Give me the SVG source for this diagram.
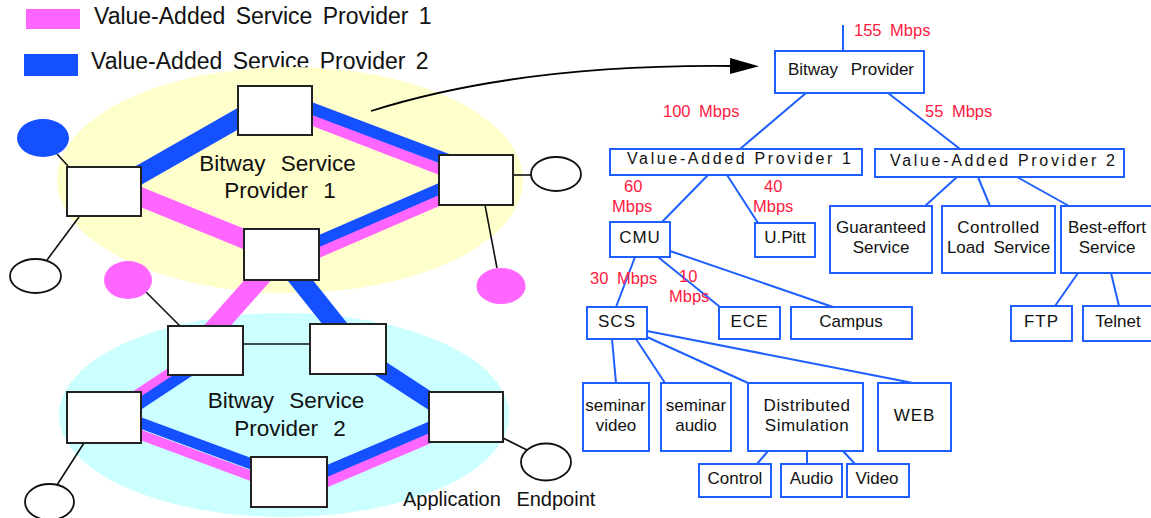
<svg xmlns="http://www.w3.org/2000/svg" width="1151" height="518" viewBox="0 0 1151 518">
<style>
text{font-family:"Liberation Sans",Arial,sans-serif;fill:#111}
.nb{fill:#fff;stroke:#222;stroke-width:2}
.tb{fill:#fff;stroke:#1f5fff;stroke-width:2}
.tl{stroke:#1f5fff;stroke-width:2;fill:none}
.thin{stroke:#111;stroke-width:1.6;fill:none}
.bl{stroke:#1450ff;fill:none}
.pk{stroke:#ff66ff;fill:none}
.ep{fill:#fff;stroke:#111;stroke-width:1.8}
.big{font-size:22.5px;word-spacing:9px}
.t17{font-size:17px}
.red{font-size:16.5px;fill:#ff2040;word-spacing:4px}
</style>
<defs>
<marker id="ah" markerWidth="30" markerHeight="18" refX="1" refY="8" orient="auto" markerUnits="userSpaceOnUse"><path d="M0,0 L29,8 L0,16 z" fill="#000"/></marker>
</defs>

<!-- legend -->
<g id="legend">
<rect x="26" y="9" width="54" height="20" fill="#ff66ff"/>
<rect x="24" y="54" width="54" height="22" fill="#1450ff"/>
<text x="94" y="24" font-size="23" word-spacing="4">Value-Added Service Provider 1</text>
<text x="91" y="69" font-size="23" word-spacing="4">Value-Added Service Provider 2</text>
</g>

<!-- regions -->
<g id="region1"><ellipse cx="290" cy="180" rx="233" ry="113" fill="#ffffcc"/></g>
<g id="region2"><ellipse cx="284" cy="415" rx="225" ry="102" fill="#ccffff"/></g>

<!-- connectors -->
<g id="connectors">
<line class="bl" x1="120" y1="186" x2="255" y2="109" stroke-width="19"/>
<line class="pk" x1="295" y1="113.4" x2="455" y2="175.2" stroke-width="11"/>
<line class="bl" x1="295" y1="102.1" x2="455" y2="162.6" stroke-width="12"/>
<line class="pk" x1="125" y1="190.5" x2="260" y2="245.5" stroke-width="19"/>
<line class="pk" x1="305" y1="258.1" x2="455" y2="193.1" stroke-width="11"/>
<line class="bl" x1="305" y1="247.1" x2="455" y2="182.1" stroke-width="11"/>
<line class="pk" x1="265" y1="272" x2="210" y2="334" stroke-width="20"/>
<line class="bl" x1="293.6" y1="272" x2="341.4" y2="332" stroke-width="20"/>
<line class="pk" x1="125" y1="402.6" x2="190" y2="359.7" stroke-width="10"/>
<line class="bl" x1="125" y1="413.6" x2="190" y2="370.7" stroke-width="11"/>
<line class="bl" x1="370" y1="361.6" x2="445" y2="410.5" stroke-width="17"/>
<line class="pk" x1="125" y1="429.1" x2="265" y2="480.9" stroke-width="10"/>
<line class="bl" x1="125" y1="417.1" x2="265" y2="468.9" stroke-width="11"/>
<line class="pk" x1="315" y1="487.1" x2="440" y2="433.8" stroke-width="10"/>
<line class="bl" x1="315" y1="476.1" x2="440" y2="422.8" stroke-width="11"/>

<line class="thin" x1="57" y1="154" x2="68" y2="166"/>
<line class="thin" x1="79" y1="217" x2="47" y2="260"/>
<line class="thin" x1="146" y1="292" x2="180" y2="326"/>
<line class="thin" x1="513" y1="175" x2="531" y2="175"/>
<line class="thin" x1="485" y1="205" x2="497" y2="268"/>
<line class="thin" x1="243" y1="344" x2="310" y2="344"/>
<line class="thin" x1="84" y1="443" x2="57" y2="485"/>
<line class="thin" x1="503" y1="438" x2="529" y2="451"/>

<path d="M371,111 Q520,64 731,66" stroke="#000" stroke-width="1.8" fill="none" marker-end="url(#ah)"/>

<line class="tl" x1="843" y1="25" x2="843" y2="51"/>
<line class="tl" x1="806" y1="93" x2="740" y2="149"/>
<line class="tl" x1="888" y1="93" x2="960" y2="149"/>
<line class="tl" x1="708" y1="175" x2="662" y2="222"/>
<line class="tl" x1="727" y1="175" x2="758" y2="223"/>
<line class="tl" x1="957" y1="177" x2="925" y2="206"/>
<line class="tl" x1="978" y1="177" x2="990" y2="206"/>
<line class="tl" x1="1017" y1="177" x2="1069" y2="206"/>
<line class="tl" x1="635" y1="257" x2="616" y2="307"/>
<line class="tl" x1="658" y1="257" x2="720" y2="307"/>
<line class="tl" x1="670" y1="251" x2="833" y2="307"/>
<line class="tl" x1="612" y1="339" x2="616" y2="383"/>
<line class="tl" x1="636" y1="339" x2="665" y2="383"/>
<line class="tl" x1="647" y1="337" x2="748" y2="383"/>
<line class="tl" x1="647" y1="331" x2="913" y2="383"/>
<line class="tl" x1="1078" y1="273" x2="1055" y2="306"/>
<line class="tl" x1="1111" y1="273" x2="1119" y2="306"/>
<line class="tl" x1="768" y1="451" x2="757" y2="464"/>
<line class="tl" x1="807" y1="451" x2="807" y2="464"/>
<line class="tl" x1="843" y1="451" x2="855" y2="464"/>
</g>

<!-- network nodes -->
<g id="r1-top"><rect class="nb" x="238" y="86" width="74" height="49"/></g>
<g id="r1-left"><rect class="nb" x="67" y="167" width="74" height="49"/></g>
<g id="r1-right"><rect class="nb" x="439" y="155" width="74" height="50"/></g>
<g id="r1-center"><rect class="nb" x="244" y="229" width="75" height="51"/></g>
<g id="r2-upleft"><rect class="nb" x="168" y="326" width="75" height="49"/></g>
<g id="r2-upright"><rect class="nb" x="310" y="324" width="76" height="50"/></g>
<g id="r2-left"><rect class="nb" x="67" y="392" width="74" height="51"/></g>
<g id="r2-bottom"><rect class="nb" x="251" y="457" width="76" height="50"/></g>
<g id="r2-right"><rect class="nb" x="429" y="392" width="74" height="50"/></g>

<g id="ep1"><ellipse cx="43" cy="138" rx="26" ry="19" fill="#1450ff"/></g>
<g id="ep2"><ellipse class="ep" cx="35.5" cy="276" rx="25.5" ry="17"/></g>
<g id="ep3"><ellipse cx="128" cy="280" rx="24" ry="19" fill="#ff66ff"/></g>
<g id="ep4"><ellipse class="ep" cx="556" cy="174" rx="25" ry="17"/></g>
<g id="ep5"><ellipse cx="501" cy="286" rx="24.5" ry="18" fill="#ff66ff"/></g>
<g id="ep6"><ellipse class="ep" cx="49.5" cy="502" rx="24.5" ry="18"/></g>
<g id="ep7"><ellipse class="ep" cx="546" cy="462" rx="25" ry="18.5"/></g>

<g id="labels">
<text class="big" x="277.5" y="171" text-anchor="middle">Bitway Service</text>
<text class="big" x="280" y="198" text-anchor="middle">Provider 1</text>
<text class="big" x="286" y="408" text-anchor="middle">Bitway Service</text>
<text class="big" x="290" y="436" text-anchor="middle">Provider 2</text>
<text x="403" y="506" font-size="20" word-spacing="10">Application Endpoint</text>
</g>

<!-- tree nodes -->
<g id="t-bitway"><rect class="tb" x="775" y="51" width="149" height="42"/><text class="t17" x="851" y="75" text-anchor="middle" word-spacing="8">Bitway Provider</text></g>
<g id="t-vap1"><rect class="tb" x="610" y="149" width="252" height="26"/><text x="627" y="164" font-size="16" textLength="224" lengthAdjust="spacing">Value-Added Provider 1</text></g>
<g id="t-vap2"><rect class="tb" x="875" y="149" width="249" height="28"/><text x="890" y="166" font-size="16" textLength="225" lengthAdjust="spacing">Value-Added Provider 2</text></g>
<g id="t-cmu"><rect class="tb" x="610" y="222" width="60" height="35"/><text class="t17" x="640" y="243" text-anchor="middle" letter-spacing="1">CMU</text></g>
<g id="t-upitt"><rect class="tb" x="755" y="223" width="60" height="34"/><text class="t17" x="785" y="243" text-anchor="middle">U.Pitt</text></g>
<g id="t-guar"><rect class="tb" x="830" y="206" width="102" height="67"/><text class="t17" x="881" y="233" text-anchor="middle">Guaranteed</text><text class="t17" x="881" y="253" text-anchor="middle">Service</text></g>
<g id="t-ctrl"><rect class="tb" x="942" y="206" width="113" height="67"/><text class="t17" x="998.5" y="233" text-anchor="middle" letter-spacing="0.5">Controlled</text><text class="t17" x="998.5" y="253" text-anchor="middle" word-spacing="4">Load Service</text></g>
<g id="t-best"><rect class="tb" x="1061" y="206" width="95" height="67"/><text class="t17" x="1107" y="233" text-anchor="middle">Best-effort</text><text class="t17" x="1107" y="253" text-anchor="middle">Service</text></g>
<g id="t-scs"><rect class="tb" x="587" y="307" width="60" height="32"/><text class="t17" x="617" y="327" text-anchor="middle" letter-spacing="1">SCS</text></g>
<g id="t-ece"><rect class="tb" x="719" y="307" width="61" height="32"/><text class="t17" x="749.5" y="327" text-anchor="middle" letter-spacing="1">ECE</text></g>
<g id="t-campus"><rect class="tb" x="791" y="307" width="121" height="32"/><text class="t17" x="851" y="327" text-anchor="middle">Campus</text></g>
<g id="t-ftp"><rect class="tb" x="1011" y="306" width="61" height="35"/><text class="t17" x="1041.5" y="327" text-anchor="middle" letter-spacing="1">FTP</text></g>
<g id="t-telnet"><rect class="tb" x="1083" y="306" width="72" height="35"/><text class="t17" x="1118" y="327" text-anchor="middle">Telnet</text></g>
<g id="t-semvid"><rect class="tb" x="583" y="383" width="66" height="68"/><text class="t17" x="615.5" y="411" text-anchor="middle">seminar</text><text class="t17" x="616" y="431" text-anchor="middle">video</text></g>
<g id="t-semaud"><rect class="tb" x="661" y="383" width="70" height="68"/><text class="t17" x="696" y="411" text-anchor="middle">seminar</text><text class="t17" x="696" y="431" text-anchor="middle">audio</text></g>
<g id="t-dist"><rect class="tb" x="748" y="383" width="115" height="68"/><text class="t17" x="807" y="411" text-anchor="middle" letter-spacing="0.5">Distributed</text><text class="t17" x="807" y="431" text-anchor="middle" letter-spacing="0.5">Simulation</text></g>
<g id="t-web"><rect class="tb" x="878" y="383" width="73" height="68"/><text class="t17" x="914.5" y="421" text-anchor="middle" letter-spacing="1">WEB</text></g>
<g id="t-control"><rect class="tb" x="699" y="464" width="72" height="33"/><text class="t17" x="735" y="484" text-anchor="middle">Control</text></g>
<g id="t-audio"><rect class="tb" x="781" y="464" width="61" height="33"/><text class="t17" x="811.5" y="484" text-anchor="middle">Audio</text></g>
<g id="t-video"><rect class="tb" x="847" y="464" width="62" height="33"/><text class="t17" x="877" y="484" text-anchor="middle">Video</text></g>

<g id="bandwidth">
<text class="red" x="854" y="36">155 Mbps</text>
<text class="red" x="663" y="117">100 Mbps</text>
<text class="red" x="925" y="117">55 Mbps</text>
<text class="red" x="624" y="192">60</text>
<text class="red" x="612" y="212">Mbps</text>
<text class="red" x="764" y="192">40</text>
<text class="red" x="753" y="212">Mbps</text>
<text class="red" x="590" y="284">30 Mbps</text>
<text class="red" x="679" y="282">10</text>
<text class="red" x="669" y="302">Mbps</text>
</g>
</svg>
